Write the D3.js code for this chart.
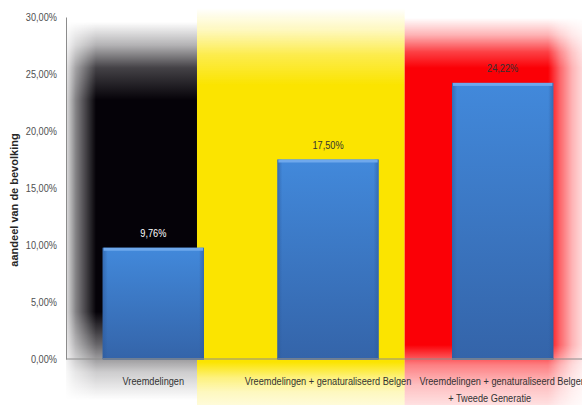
<!DOCTYPE html>
<html>
<head>
<meta charset="utf-8">
<script src="https://cdn.jsdelivr.net/npm/d3@7"></script>
<style>
  body { margin: 0; background: #fff; }
  svg { display: block; }
</style>
</head>
<body>
<svg id="chart" width="582" height="405"></svg>
<script>
///////////////////////////////////////////
// Data
///////////////////////////////////////////
var categories = [
    ["Vreemdelingen"],
    ["Vreemdelingen + genaturaliseerd Belgen"],
    ["Vreemdelingen + genaturaliseerd Belgen", "+ Tweede Generatie"]
];
var values = [9.76, 17.50, 24.22];
var valueLabels = ["9,76%", "17,50%", "24,22%"];
var tickValues = [0, 5, 10, 15, 20, 25, 30];
var tickLabels = ["0,00%", "5,00%", "10,00%", "15,00%", "20,00%", "25,00%", "30,00%"];
var flagColors = ["#050208", "#fbe400", "#fb0006"];
var labelColors = ["#ffffff", "#333333", "#333333"];

///////////////////////////////////////////
// Chart
///////////////////////////////////////////
var svg = d3.select("#chart");
var margin = {left: 66, right: -8, top: 17, bottom: 46};
var width = 582 - margin.left - margin.right,
    height = 405 - margin.top - margin.bottom;
var narrow = 0.8;   // squeeze text to look like the condensed original
var font = "'Liberation Sans', Arial, sans-serif";

var x = d3.scaleBand()
    .domain(d3.range(values.length))
    .range([0, width])
    .paddingInner(0.42)
    .paddingOuter(0.21);

var y = d3.scaleLinear()
    .domain([0, 30])
    .range([height, 0]);

var defs = svg.append("defs");

var grad = defs.append("linearGradient")
    .attr("id", "barGrad")
    .attr("x1", 0).attr("y1", 0).attr("x2", 0).attr("y2", 1);
grad.append("stop").attr("offset", "0%").attr("stop-color", "#4289db");
grad.append("stop").attr("offset", "100%").attr("stop-color", "#3464a9");

var side = defs.append("linearGradient")
    .attr("id", "sideGrad")
    .attr("x1", 0).attr("y1", 0).attr("x2", 1).attr("y2", 0);
side.append("stop").attr("offset", "0%").attr("stop-color", "#2c5a9c").attr("stop-opacity", 0.6);
side.append("stop").attr("offset", "5%").attr("stop-color", "#2c5a9c").attr("stop-opacity", 0);
side.append("stop").attr("offset", "95%").attr("stop-color", "#2c5a9c").attr("stop-opacity", 0);
side.append("stop").attr("offset", "100%").attr("stop-color", "#2c5a9c").attr("stop-opacity", 0.6);

// flag stripes: colour column with soft vertical and horizontal fades
var cuts = [margin.left, margin.left + x(0) + x.bandwidth() - 7,
            margin.left + x(1) + x.bandwidth() + 26, 582];
var vFade = [
    [[0, 0], [22, 0], [45, 0.3], [68, 0.75], [100, 1], [312, 1], [345, 0.6], [372, 0.2], [400, 0]],
    [[0, 0], [8, 0], [30, 0.25], [55, 0.7], [85, 1], [362, 1], [378, 0.5], [392, 0.25], [405, 0.15]],
    [[0, 0], [18, 0], [35, 0.3], [52, 0.75], [68, 1], [345, 1], [365, 0.5], [385, 0.25], [405, 0.12]]
];
var hFade = [
    [[66, 0.12], [76, 0.5], [96, 1], [582, 1]],
    [[0, 1], [582, 1]],
    [[0, 1], [548, 1], [560, 0.6], [572, 0.3], [582, 0.15]]
];

vFade.forEach(function(stops, i) {
    var vg = defs.append("linearGradient")
        .attr("id", "vg" + i)
        .attr("gradientUnits", "userSpaceOnUse")
        .attr("x1", 0).attr("y1", 0).attr("x2", 0).attr("y2", 405);
    stops.forEach(function(s) {
        vg.append("stop").attr("offset", s[0] / 405)
            .attr("stop-color", flagColors[i]).attr("stop-opacity", s[1]);
    });
    var hg = defs.append("linearGradient")
        .attr("id", "hg" + i)
        .attr("gradientUnits", "userSpaceOnUse")
        .attr("x1", 0).attr("y1", 0).attr("x2", 582).attr("y2", 0);
    hFade[i].forEach(function(s) {
        hg.append("stop").attr("offset", s[0] / 582)
            .attr("stop-color", "#fff").attr("stop-opacity", s[1]);
    });
    defs.append("mask").attr("id", "hm" + i)
        .attr("maskUnits", "userSpaceOnUse")
        .attr("x", 0).attr("y", 0).attr("width", 582).attr("height", 405)
      .append("rect")
        .attr("x", 0).attr("y", 0).attr("width", 582).attr("height", 405)
        .attr("fill", "url(#hg" + i + ")");
    svg.append("rect")
        .attr("x", cuts[i]).attr("y", 0)
        .attr("width", cuts[i + 1] - cuts[i]).attr("height", 405)
        .attr("fill", "url(#vg" + i + ")")
        .attr("mask", "url(#hm" + i + ")");
});

var g = svg.append("g")
    .attr("transform", "translate(" + margin.left + "," + margin.top + ")");

// axes
var yAxis = g.append("g")
    .call(d3.axisLeft(y).tickValues(tickValues).tickSize(0).tickPadding(9)
        .tickFormat(function(d, i) { return tickLabels[i]; }));
yAxis.select(".domain").attr("stroke", "#8c8c8c");
yAxis.selectAll("text")
    .attr("x", -9 / narrow)
    .attr("transform", "scale(" + narrow + ",1)")
    .attr("fill", "#505050")
    .style("font-family", font)
    .style("font-size", "11.5px");

g.append("line")
    .attr("x1", 0).attr("x2", width)
    .attr("y1", y(0)).attr("y2", y(0))
    .attr("stroke", "#8c8c8c");

// bars
var bars = g.selectAll(".bar")
    .data(values)
    .enter().append("g")
    .attr("class", "bar");

bars.append("rect")
    .attr("x", function(d, i) { return x(i); })
    .attr("y", function(d) { return y(d); })
    .attr("width", x.bandwidth())
    .attr("height", function(d) { return y(0) - y(d); })
    .attr("fill", "url(#barGrad)");

bars.append("rect")
    .attr("x", function(d, i) { return x(i); })
    .attr("y", function(d) { return y(d); })
    .attr("width", x.bandwidth())
    .attr("height", function(d) { return y(0) - y(d); })
    .attr("fill", "url(#sideGrad)");

// top bevel
bars.append("rect")
    .attr("x", function(d, i) { return x(i) + 1; })
    .attr("y", function(d) { return y(d); })
    .attr("width", x.bandwidth() - 2)
    .attr("height", 3)
    .attr("fill", "#6fa8ec");

// shadow at bar foot
bars.append("rect")
    .attr("x", function(d, i) { return x(i); })
    .attr("y", y(0) - 1)
    .attr("width", x.bandwidth())
    .attr("height", 2)
    .attr("fill", "#6f7f95");

bars.append("text")
    .attr("transform", function(d, i) {
        return "translate(" + (x(i) + x.bandwidth() / 2) + "," + (y(d) - 11) + ") scale(" + narrow + ",1)";
    })
    .attr("text-anchor", "middle")
    .attr("fill", function(d, i) { return labelColors[i]; })
    .style("font-family", font)
    .style("font-size", "11.5px")
    .text(function(d, i) { return valueLabels[i]; });

// category labels
var cat = g.selectAll(".cat")
    .data(categories)
    .enter().append("text")
    .attr("class", "cat")
    .attr("transform", function(d, i) {
        return "translate(" + (x(i) + x.bandwidth() / 2) + "," + (y(0) + 26) + ") scale(" + narrow + ",1)";
    })
    .attr("text-anchor", "middle")
    .attr("fill", "#333333")
    .style("font-family", font)
    .style("font-size", "11.5px");

cat.selectAll("tspan")
    .data(function(d) { return d; })
    .enter().append("tspan")
    .attr("x", function(d, j) { return j > 0 ? -13 / narrow : 0; })
    .attr("y", function(d, j) { return j * 17; })
    .text(function(d) { return d; });

// y title
svg.append("text")
    .attr("transform", "translate(18," + (margin.top + height / 2 + 12) + ") rotate(-90)")
    .attr("text-anchor", "middle")
    .attr("fill", "#262626")
    .style("font-family", font)
    .style("font-weight", "bold")
    .style("font-size", "11px")
    .text("aandeel van de bevolking");
</script>
</body>
</html>
